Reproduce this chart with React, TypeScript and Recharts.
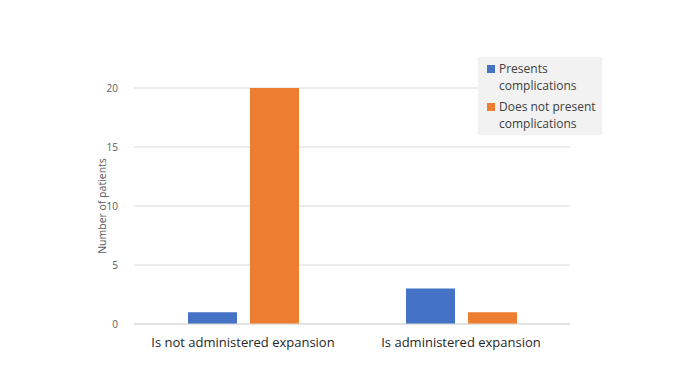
import { Bar, BarChart, CartesianGrid, XAxis, YAxis } from 'recharts'

const categories = ['Is not administered expansion', 'Is administered expansion']
const presents = [1, 3]
const doesNotPresent = [20, 1]
const yTicks = [0, 5, 10, 15, 20]

const data = categories.map((name, i) => ({
  name,
  presents: presents[i],
  doesNotPresent: doesNotPresent[i],
}))

const FONT = '"Open Sans", "Noto Sans", sans-serif'

const legendItems = [
  { color: '#4472C4', label: ['Presents', 'complications'] },
  { color: '#ED7D31', label: ['Does not present', 'complications'] },
]

function LegendBox() {
  return (
    <div
      style={{
        position: 'absolute',
        left: 478,
        top: 57,
        background: '#f2f2f2',
        width: 124,
        height: 78,
        boxSizing: 'border-box',
        padding: '3px 0 0 9px',
        fontFamily: FONT,
        fontSize: 12,
        lineHeight: '17px',
        color: '#404040',
      }}
    >
      {legendItems.map((it) => (
        <div key={it.color} style={{ display: 'flex', alignItems: 'flex-start', marginBottom: 4 }}>
          <span style={{ width: 8, height: 8, background: it.color, marginTop: 5, marginRight: 4, flexShrink: 0 }} />
          <span>
            {it.label[0]}
            <br />
            {it.label[1]}
          </span>
        </div>
      ))}
    </div>
  )
}

export default function App() {
  return (
    <div style={{ position: 'absolute', left: 0, top: 0, width: 689, height: 369, background: '#fff' }}>
      <BarChart
        width={689}
        height={369}
        data={data}
        margin={{ top: 88, right: 119, bottom: 15, left: 94 }}
        barCategoryGap="24.5%"
        barGap={13}
      >
        <CartesianGrid vertical={false} stroke="#d9d9d9" />
        <XAxis
          dataKey="name"
          height={30}
          axisLine={{ stroke: '#d9d9d9' }}
          tickLine={false}
          tickMargin={8}
          tick={{ fill: '#262626', fontSize: 13, fontFamily: FONT }}
        />
        <YAxis
          width={40}
          domain={[0, 20]}
          ticks={yTicks}
          axisLine={false}
          tickLine={false}
          tickMargin={10}
          tick={{ fill: '#595959', fontSize: 10, fontFamily: FONT }}
          label={{
            value: 'Number of patients',
            angle: -90,
            position: 'insideLeft',
            offset: 8,
            style: { fill: '#595959', fontSize: 10.5, fontFamily: FONT, textAnchor: 'middle' },
          }}
        />
        <Bar dataKey="presents" name="Presents complications" fill="#4472C4" barSize={49} isAnimationActive={false} />
        <Bar dataKey="doesNotPresent" name="Does not present complications" fill="#ED7D31" barSize={49} isAnimationActive={false} />
      </BarChart>
      <LegendBox />
    </div>
  )
}
